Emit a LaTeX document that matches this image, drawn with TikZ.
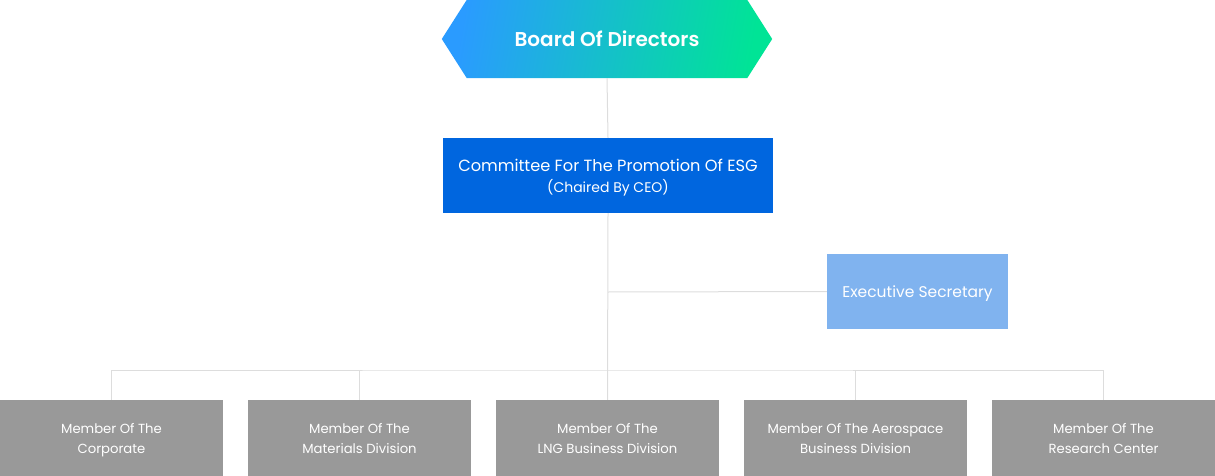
\documentclass[tikz,border=0pt]{standalone}
\usepackage{fontspec}
\setmainfont{Poppins}[BoldFont={Poppins SemiBold}]
\usepackage{tikz}

\definecolor{hexblue}{RGB}{42,155,255}
\definecolor{hexgreen}{RGB}{0,228,150}
\definecolor{esgblue}{RGB}{0,102,223}
\definecolor{secblue}{RGB}{128,179,239}
\definecolor{membergray}{RGB}{153,153,153}
\definecolor{wiregray}{RGB}{221,221,221}

\begin{document}
\begin{tikzpicture}[x=1pt, y=-1pt,
    wire/.style={draw=wiregray, line width=1pt},
    box/.style={fill=#1, text=white, inner sep=0pt, align=center, text depth=0pt},
    member/.style={box=membergray, minimum width=223pt, minimum height=76pt,
        font=\fontsize{13.2}{20}\selectfont}]
            \useasboundingbox (0,0) rectangle (1215,476);

            \coordinate (bus) at (608,370);
            \coordinate (tap) at (608,292);

            % board hexagon
            \node[inner sep=0pt, minimum width=330pt, minimum height=78pt] (board) at (607,39) {};
            \shade[left color=hexblue, right color=hexgreen, shading angle=80]
                (board.west) -- ([xshift=25pt]board.north west) -- ([xshift=-25pt]board.north east)
                -- (board.east) -- ([xshift=-25pt]board.south east) -- ([xshift=25pt]board.south west) -- cycle;
            \node[text=white, font=\fontsize{20}{24}\selectfont\bfseries] at (board) {Board Of Directors};

            \node[box=esgblue, minimum width=330pt, minimum height=75pt,
                font=\fontsize{16.2}{22}\selectfont] (esg) at (608,175.5)
                {Committee For The Promotion Of ESG\\[-1pt]
                 \fontsize{14}{22}\selectfont (Chaired By CEO)};
            \node[box=secblue, minimum width=181pt, minimum height=75pt,
                font=\fontsize{15.5}{20}\selectfont] (sec) at (917.5,291.5) {Executive Secretary};

            \node[member] (m1) at (111.5,438) {Member Of The\\Corporate};
            \node[member] (m2) at (359.5,438) {Member Of The\\Materials Division};
            \node[member] (m3) at (607.5,438) {Member Of The\\LNG Business Division};
            \node[member] (m4) at (855.5,438) {Member Of The Aerospace\\Business Division};
            \node[member] (m5) at (1103.5,438) {Member Of The\\Research Center};

            \draw[wire] (board.south) -- (esg.north);
            \draw[wire] (esg.south) -- (m3.north);
            \draw[wire] (tap) -- (sec.west);
            \draw[wire] (m1.north) |- (bus) -| (m5.north);
            \foreach \m in {m2,m4}
                \draw[wire] (\m.north) -- (\m.north |- bus);
        \end{tikzpicture}
\end{document}
